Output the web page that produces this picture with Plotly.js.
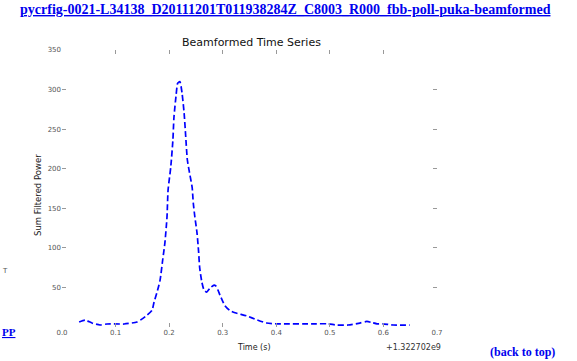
<!DOCTYPE html>
<html>
<head>
<meta charset="utf-8">
<script src="https://cdn.plot.ly/plotly-3.0.1.min.js"></script>
<style>
  html, body { margin: 0; padding: 0; background: #fff; overflow: hidden; }
  #chart { width: 577px; height: 361px; }
</style>
</head>
<body>
<div id="chart"></div>
<script>
// Time offsets (s) relative to the offset shown at the axis corner
const timeSec = [
  0.032, 0.043, 0.056, 0.071, 0.084, 0.108, 0.116, 0.140, 0.149, 0.159,
  0.168, 0.172, 0.177, 0.183, 0.188, 0.192, 0.196, 0.198, 0.203, 0.207,
  0.209, 0.213, 0.216, 0.220, 0.224, 0.228, 0.231, 0.234, 0.238, 0.243,
  0.245, 0.248, 0.252, 0.255, 0.257, 0.261, 0.265, 0.270, 0.276, 0.284,
  0.287, 0.291, 0.295, 0.299, 0.304, 0.313, 0.323, 0.345, 0.364, 0.382,
  0.401, 0.420, 0.450, 0.466, 0.496, 0.513, 0.534, 0.556, 0.569, 0.578,
  0.588, 0.599, 0.618, 0.649
];
// Summed filtered power of the beamformed signal
const sumPower = [
  6.3, 8.8, 5.0, 2.5, 3.8, 3.8, 3.8, 6.3, 10, 15,
  21, 32, 43, 59, 85, 106, 139, 173, 202, 236,
  265, 293, 308, 310, 296, 270, 240, 211, 195, 176,
  157, 139, 119, 95, 75, 57, 47, 44, 49, 53,
  52, 47, 40, 34, 27, 21, 18, 14, 9, 5,
  4, 4, 4, 4, 4, 2.5, 2.5, 5, 7, 5.7,
  4, 4, 2.5, 2.5
];
const xTicks = [0.0, 0.1, 0.2, 0.3, 0.4, 0.5, 0.6, 0.7];
const xTickText = ['0.0', '0.1', '0.2', '0.3', '0.4', '0.5', '0.6', '0.7'];
const yTicks = [50, 100, 150, 200, 250, 300, 350];
const yTickText = ['50', '100', '150', '200', '250', '300', '350'];

const pageTitle = 'pycrfig-0021-L34138_D20111201T011938284Z_C8003_R000_fbb-poll-puka-beamformed';
const chartTitle = 'Beamformed Time Series';
const xLabel = 'Time (s)';
const yLabel = 'Sum Filtered Power';
const offsetLabel = '+1.322702e9';

// Page geometry: plot area placed in pixels, annotations converted to paper units
const W = 577, H = 361;
const L = 62, R = 437, T = 50, B = 327;
const px = x => (x - L) / (R - L);
const py = y => (B - y) / (B - T);

const tickFont = { family: 'DejaVu Sans', size: 7, color: '#555' };

const trace = {
  x: timeSec,
  y: sumPower,
  type: 'scatter',
  mode: 'lines',
  line: { color: '#0000ff', width: 1.7, dash: '6px,3px', shape: 'spline', smoothing: 0.6 },
  hoverinfo: 'x+y'
};

const layout = {
  width: W,
  height: H,
  margin: { l: L, r: W - R, t: T, b: H - B, pad: 0 },
  paper_bgcolor: '#fff',
  plot_bgcolor: '#fff',
  showlegend: false,
  xaxis: {
    range: [0, 0.7],
    tickvals: xTicks,
    ticktext: xTickText,
    ticks: 'inside',
    ticklen: 4,
    tickcolor: '#999',
    tickfont: tickFont,
    showgrid: false,
    zeroline: false,
    showline: false,
    mirror: 'ticks'
  },
  yaxis: {
    range: [0, 350],
    tickvals: yTicks,
    ticktext: yTickText,
    ticks: 'inside',
    ticklen: 4,
    tickcolor: '#999',
    tickfont: tickFont,
    showgrid: false,
    zeroline: false,
    showline: false,
    mirror: 'ticks'
  },
  annotations: [
    {
      text: pageTitle, xref: 'paper', yref: 'paper',
      x: px(18), y: py(10), xanchor: 'left', yanchor: 'middle', showarrow: false,
      font: { family: 'Liberation Serif', size: 14, color: '#0000ee', weight: 'bold', lineposition: 'under' }
    },
    {
      text: chartTitle, xref: 'paper', yref: 'paper',
      x: px(251), y: py(42), xanchor: 'center', yanchor: 'middle', showarrow: false,
      font: { family: 'DejaVu Sans', size: 11, color: '#111' }
    },
    {
      text: xLabel, xref: 'paper', yref: 'paper',
      x: px(254), y: py(347), xanchor: 'center', yanchor: 'middle', showarrow: false,
      font: { family: 'DejaVu Sans', size: 8, color: '#222' }
    },
    {
      text: yLabel, xref: 'paper', yref: 'paper', textangle: -90,
      x: px(38), y: py(195), xanchor: 'center', yanchor: 'middle', showarrow: false,
      font: { family: 'DejaVu Sans', size: 8.5, color: '#222' }
    },
    {
      text: offsetLabel, xref: 'paper', yref: 'paper',
      x: px(413), y: py(347), xanchor: 'center', yanchor: 'middle', showarrow: false,
      font: { family: 'DejaVu Sans', size: 8, color: '#333' }
    },
    {
      text: 'T', xref: 'paper', yref: 'paper',
      x: px(5), y: py(271), xanchor: 'center', yanchor: 'middle', showarrow: false,
      font: { family: 'DejaVu Sans', size: 7, color: '#555' }
    },
    {
      text: 'PP', xref: 'paper', yref: 'paper',
      x: px(0), y: py(332), xanchor: 'left', yanchor: 'middle', showarrow: false,
      font: { family: 'Liberation Serif', size: 11, color: '#0000ee', weight: 'bold', lineposition: 'under' }
    },
    {
      text: '(back to top)', xref: 'paper', yref: 'paper',
      x: px(522), y: py(352), xanchor: 'center', yanchor: 'middle', showarrow: false,
      font: { family: 'Liberation Serif', size: 12, color: '#0000ee', weight: 'bold' }
    }
  ]
};

Plotly.newPlot('chart', [trace], layout, { displayModeBar: false, staticPlot: true });
</script>
</body>
</html>
